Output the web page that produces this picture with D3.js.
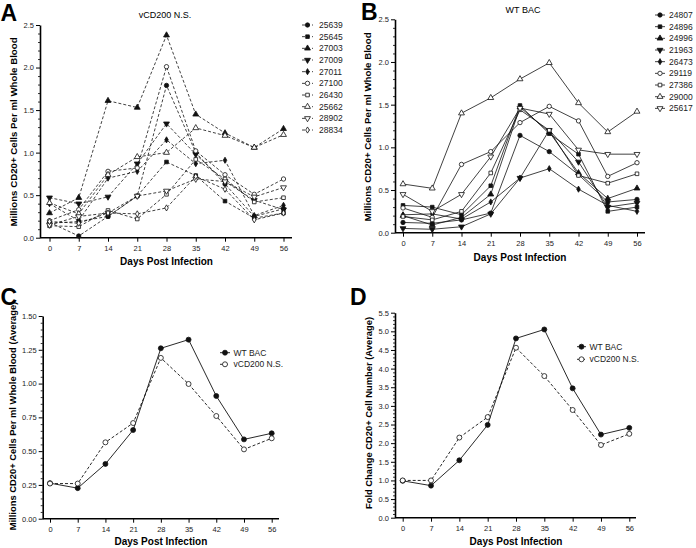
<!DOCTYPE html>
<html><head><meta charset="utf-8">
<script src="https://cdn.jsdelivr.net/npm/d3@7/dist/d3.min.js"></script>
<style>body{margin:0;background:#fff}svg{display:block;font-family:"Liberation Sans",Arial,sans-serif}</style>
</head><body><svg id="c" width="696" height="548"></svg>
<script>
const days = [0, 7, 14, 21, 28, 35, 42, 49, 56];

// Panel A: vCD200 N.S. individual animals
const seriesA = ["25639","25645","27003","27009","27011","27100","26430","25662","28902","28834"];
const symbolsA = ["circle","square","triangle","triangleDown","diamond","circle","square","triangle","triangleDown","diamond"];
const filledA = [true,true,true,true,true,false,false,false,false,false];
const a25639 = [0.18, 0.02, 0.25, 0.49, 1.79, 1.00, 0.63, 0.25, 0.34];
const a25645 = [0.17, 0.19, 0.25, 0.49, 0.89, 0.73, 0.43, 0.23, 0.29];
const a27003 = [0.29, 0.47, 1.61, 1.53, 2.38, 1.45, 1.23, 1.06, 1.28];
const a27009 = [0.47, 0.40, 0.48, 0.87, 1.34, 0.98, 0.66, 0.44, 0.33];
const a27011 = [0.40, 0.20, 0.70, 0.78, 1.15, 0.87, 0.91, 0.26, 0.38];
const a27100 = [0.20, 0.33, 0.78, 0.82, 2.01, 1.02, 0.74, 0.51, 0.69];
const a26430 = [0.14, 0.13, 0.32, 0.22, 0.51, 0.92, 0.69, 0.42, 0.47];
const a25662 = [0.41, 0.28, 0.74, 0.95, 1.00, 1.29, 1.20, 1.06, 1.21];
const a28902 = [0.15, 0.25, 0.29, 0.49, 0.55, 0.69, 0.66, 0.48, 0.59];
const a28834 = [0.19, 0.17, 0.29, 0.28, 0.35, 0.72, 0.57, 0.21, 0.29];
const valuesA = [a25639,a25645,a27003,a27009,a27011,a27100,a26430,a25662,a28902,a28834];

// Panel B: WT BAC individual animals
const seriesB = ["24807","24896","24996","21963","26473","29119","27386","29000","25617"];
const symbolsB = ["circle","square","triangle","triangleDown","diamond","circle","square","triangle","triangleDown"];
const filledB = [true,true,true,true,true,false,false,false,false];
const b24807 = [0.12, 0.11, 0.15, 0.23, 1.14, 0.95, 0.68, 0.36, 0.39];
const b24896 = [0.32, 0.30, 0.21, 0.55, 1.49, 1.16, 0.92, 0.25, 0.30];
const b24996 = [0.20, 0.09, 0.18, 0.45, 1.47, 1.18, 0.70, 0.40, 0.52];
const b21963 = [0.05, 0.04, 0.07, 0.22, 0.64, 1.20, 0.83, 0.30, 0.35];
const b26473 = [0.21, 0.22, 0.16, 0.36, 0.64, 0.75, 0.51, 0.32, 0.25];
const b29119 = [0.29, 0.18, 0.80, 0.95, 1.29, 1.48, 1.31, 0.66, 0.82];
const b27386 = [0.19, 0.15, 0.25, 0.70, 1.44, 1.20, 0.67, 0.58, 0.69];
const b29000 = [0.57, 0.52, 1.40, 1.58, 1.80, 1.99, 1.52, 1.18, 1.42];
const b25617 = [0.45, 0.25, 0.45, 0.89, 1.46, 1.39, 0.97, 0.92, 0.92];
const valuesB = [b24807,b24896,b24996,b21963,b26473,b29119,b27386,b29000,b25617];

// Panel C: averages (millions)
const seriesAvg = ["WT BAC", "vCD200 N.S."];
const avgWT = [0.263, 0.226, 0.405, 0.656, 1.261, 1.325, 0.908, 0.587, 0.632];
const avgV  = [0.260, 0.260, 0.565, 0.708, 1.190, 0.997, 0.760, 0.513, 0.595];

// Panel D: fold change (average)
const foldWT = [0.99, 0.86, 1.54, 2.49, 4.81, 5.05, 3.47, 2.23, 2.41];
const foldV  = [1.00, 1.00, 2.15, 2.70, 4.56, 3.80, 2.89, 1.95, 2.25];

const svg = d3.select("#c");

const symMap = {
  circle: d3.symbolCircle, square: d3.symbolSquare, triangle: d3.symbolTriangle,
  triangleDown: d3.symbolTriangle, diamond: d3.symbolDiamond
};
const symSize = {circle: 15, square: 13, triangle: 15, triangleDown: 15, diamond: 11};

function marker(g, type, filled, x, y, scale) {
  g.append("path")
    .attr("d", d3.symbol().type(symMap[type]).size(symSize[type] * scale)())
    .attr("transform", `translate(${x},${y})` + (type === "triangleDown" ? " rotate(180)" : ""))
    .attr("fill", filled ? "#111" : "#fff")
    .attr("stroke", "#111").attr("stroke-width", 0.8);
}

function panel(cfg) {
  const g = svg.append("g");
  const x = d3.scaleLinear().domain([0, 56]).range([cfg.x0, cfg.x56]);
  const y = d3.scaleLinear().domain([0, cfg.yMax]).range([cfg.yBot, cfg.yTop]);

  const majors = d3.range(0, cfg.yMax + 1e-9, cfg.major);
  const minors = d3.range(0, cfg.yMax + 1e-9, cfg.minor).filter(v => majors.every(m => Math.abs(m - v) > 1e-6));
  const yAx = g.append("g").attr("transform", `translate(${cfg.ax},0)`)
    .call(d3.axisLeft(y).tickValues(majors).tickSize(4).tickSizeOuter(0).tickPadding(2).tickFormat(d3.format(cfg.fmt)));
  yAx.select(".domain").attr("stroke-width", 1.6);
  yAx.selectAll(".tick line").attr("stroke-width", 1);
  yAx.selectAll("text").attr("font-size", 7.5).attr("fill", "#222");
  const yMin = g.append("g").attr("transform", `translate(${cfg.ax},0)`)
    .call(d3.axisLeft(y).tickValues(minors).tickSize(2).tickFormat(""));
  yMin.select(".domain").remove();
  yMin.selectAll(".tick line").attr("stroke-width", 0.8);

  const xAx = g.append("g").attr("transform", `translate(0,${cfg.yBot})`)
    .call(d3.axisBottom(x).tickValues(days).tickSize(4).tickSizeOuter(0).tickPadding(4));
  xAx.select(".domain").remove();
  xAx.selectAll(".tick line").attr("stroke-width", 1);
  xAx.selectAll("text").attr("font-size", 7.5).attr("fill", "#222");
  g.append("line").attr("x1", cfg.ax).attr("x2", cfg.xEnd)
    .attr("y1", cfg.yBot).attr("y2", cfg.yBot).attr("stroke", "#000").attr("stroke-width", 1.6);

  g.append("text").attr("x", (cfg.x0 + cfg.x56) / 2).attr("y", cfg.xtY)
    .attr("text-anchor", "middle").attr("font-size", 10).attr("font-weight", "bold").text("Days Post Infection");
  g.append("text").attr("transform", `translate(${cfg.ytX},${cfg.ytY}) rotate(-90)`)
    .attr("text-anchor", "middle").attr("font-size", cfg.ytSize).attr("font-weight", "bold").text(cfg.ytitle);
  g.append("text").attr("x", cfg.letX).attr("y", cfg.letY).attr("font-size", 23)
    .attr("font-weight", "bold").text(cfg.letter);
  if (cfg.title) g.append("text").attr("x", cfg.titleX).attr("y", cfg.titleY)
    .attr("text-anchor", "middle").attr("font-size", 9).text(cfg.title);

  const line = d3.line().x((d, i) => x(days[i])).y(d => y(d));
  cfg.values.forEach((vals, k) => {
    g.append("path").attr("d", line(vals)).attr("fill", "none").attr("stroke", "#111")
      .attr("stroke-width", cfg.lw).attr("stroke-dasharray", cfg.dash[k] || null);
  });
  cfg.values.forEach((vals, k) => {
    vals.forEach((v, i) => marker(g, cfg.symbols[k], cfg.filled[k], x(days[i]), y(v), cfg.ms));
  });

  cfg.names.forEach((n, k) => {
    const ly = cfg.legY + k * cfg.legStep;
    g.append("line").attr("x1", cfg.legX).attr("x2", cfg.legX + cfg.legW).attr("y1", ly).attr("y2", ly)
      .attr("stroke", "#111").attr("stroke-width", cfg.lw).attr("stroke-dasharray", cfg.dash[k] || null);
    marker(g, cfg.symbols[k], cfg.filled[k], cfg.legX + cfg.legW / 2, ly, cfg.ms);
    g.append("text").attr("x", cfg.legX + cfg.legW + cfg.legGap).attr("y", ly + 3)
      .attr("font-size", 8.5).attr("fill", "#222").text(n);
  });
}

const ylab = "Millions CD20+ Cells Per ml Whole Blood";

panel({letter: "A", letX: 0.5, letY: 21, title: "vCD200 N.S.", titleX: 165, titleY: 18,
  ax: 40, x0: 49.5, x56: 283.5, xEnd: 292, yTop: 25, yBot: 237.7, yMax: 2.5, major: 0.5, minor: 0.1, fmt: ".1f",
  xtY: 265, ytX: 16.5, ytY: 132, ytSize: 9.7, ytitle: ylab,
  values: valuesA, symbols: symbolsA, filled: filledA, names: seriesA,
  dash: seriesA.map(() => "3,2"), lw: 0.8, ms: 1,
  legX: 302, legW: 11, legGap: 6, legY: 25, legStep: 11.67});

panel({letter: "B", letX: 361, letY: 20, title: "WT BAC", titleX: 523, titleY: 13,
  ax: 395, x0: 403, x56: 637, xEnd: 645, yTop: 19.3, yBot: 232.7, yMax: 2.5, major: 0.5, minor: 0.1, fmt: ".1f",
  xtY: 261, ytX: 370.5, ytY: 127, ytSize: 9.7, ytitle: ylab,
  values: valuesB, symbols: symbolsB, filled: filledB, names: seriesB,
  dash: [], lw: 0.8, ms: 1,
  legX: 655, legW: 10, legGap: 4, legY: 15, legStep: 11.67});

panel({letter: "C", letX: 0.5, letY: 305, title: null,
  ax: 42.7, x0: 50, x56: 271.7, xEnd: 279, yTop: 316, yBot: 518.7, yMax: 1.5, major: 0.25, minor: 0.05, fmt: ".2f",
  xtY: 545, ytX: 16, ytY: 416, ytSize: 9.4, ytitle: ylab + " (Average)",
  values: [avgWT, avgV], symbols: ["circle","circle"], filled: [true,false], names: seriesAvg,
  dash: [null, "3,2"], lw: 0.9, ms: 1.3,
  legX: 220, legW: 10, legGap: 3.5, legY: 352.7, legStep: 11.6});

panel({letter: "D", letX: 350, letY: 305, title: null,
  ax: 395, x0: 402.7, x56: 629.3, xEnd: 636, yTop: 312.7, yBot: 517.7, yMax: 5.5, major: 0.5, minor: 0.1, fmt: ".1f",
  xtY: 545, ytX: 371.5, ytY: 413, ytSize: 9.4, ytitle: "Fold Change CD20+ Cell Number (Average)",
  values: [foldWT, foldV], symbols: ["circle","circle"], filled: [true,false], names: seriesAvg,
  dash: [null, "3,2"], lw: 0.9, ms: 1.3,
  legX: 577, legW: 9, legGap: 3.5, legY: 346.7, legStep: 12.6});
</script></body></html>
